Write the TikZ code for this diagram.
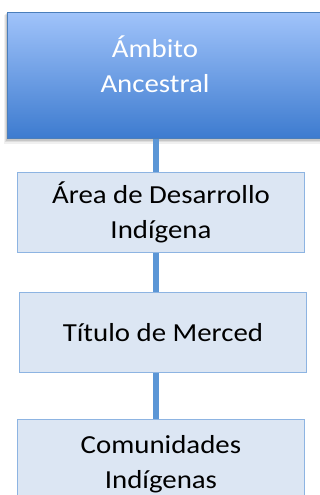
\documentclass[tikz,border=0pt]{standalone}
\usepackage{fontspec}
\setmainfont[FakeStretch=1.11]{Carlito}
\usetikzlibrary{shadows}
\definecolor{topA}{HTML}{A0C3FA}
\definecolor{topB}{HTML}{3D7BCF}
\definecolor{topline}{HTML}{4A7EBB}
\definecolor{boxfill}{HTML}{DCE6F3}
\definecolor{boxline}{HTML}{8DB4E2}
\definecolor{conn}{HTML}{5B96D6}
\tikzset{
  x=1pt, y=-1pt,
  topbox/.style={rectangle, draw=topline, line width=0.8pt, top color=topA, bottom color=topB,
    anchor=north west, minimum width=323pt, minimum height=126pt, inner sep=0pt},
  toplabel/.style={text=white, font=\fontsize{26}{35.5}\selectfont, align=center, inner sep=0pt},
  lowbox/.style={rectangle, draw=boxline, line width=0.9pt, fill=boxfill, anchor=north west,
    minimum width=287pt, minimum height=80pt, inner sep=0pt, align=center,
    font=\fontsize{26}{35}\selectfont, text=black},
  connline/.style={draw=conn, line width=6pt},
}
\begin{document}
\begin{tikzpicture}
\useasboundingbox (0,0) rectangle (320,495);
\begin{scope}
\clip (0,0) rectangle (320,495);
\coordinate (cx) at (156,0);
% shadow of top box
\fill[black, opacity=0.06] (4,15) rectangle (330,144);
\fill[black, opacity=0.08] (5,14) rectangle (330,142);
\fill[black, opacity=0.10] (6,13) rectangle (330,140.5);
\node[topbox] (top) at (7,12) {};
\node[toplabel] (toptext) at (155,64) {Ámbito\\Ancestral};
\node[lowbox] (b2) at (17,172) {Área de Desarrollo\\Indígena};
\node[lowbox] (b3) at (19,292) {Título de Merced};
\node[lowbox, minimum height=90pt] (b4) at (17,419) {Comunidades\\Indígenas};
\draw[connline] (top.south -| cx) -- (b2.north -| cx);
\draw[connline] (b2.south -| cx) -- (b3.north -| cx);
\draw[connline] (b3.south -| cx) -- (b4.north -| cx);
\end{scope}
\end{tikzpicture}
\end{document}
